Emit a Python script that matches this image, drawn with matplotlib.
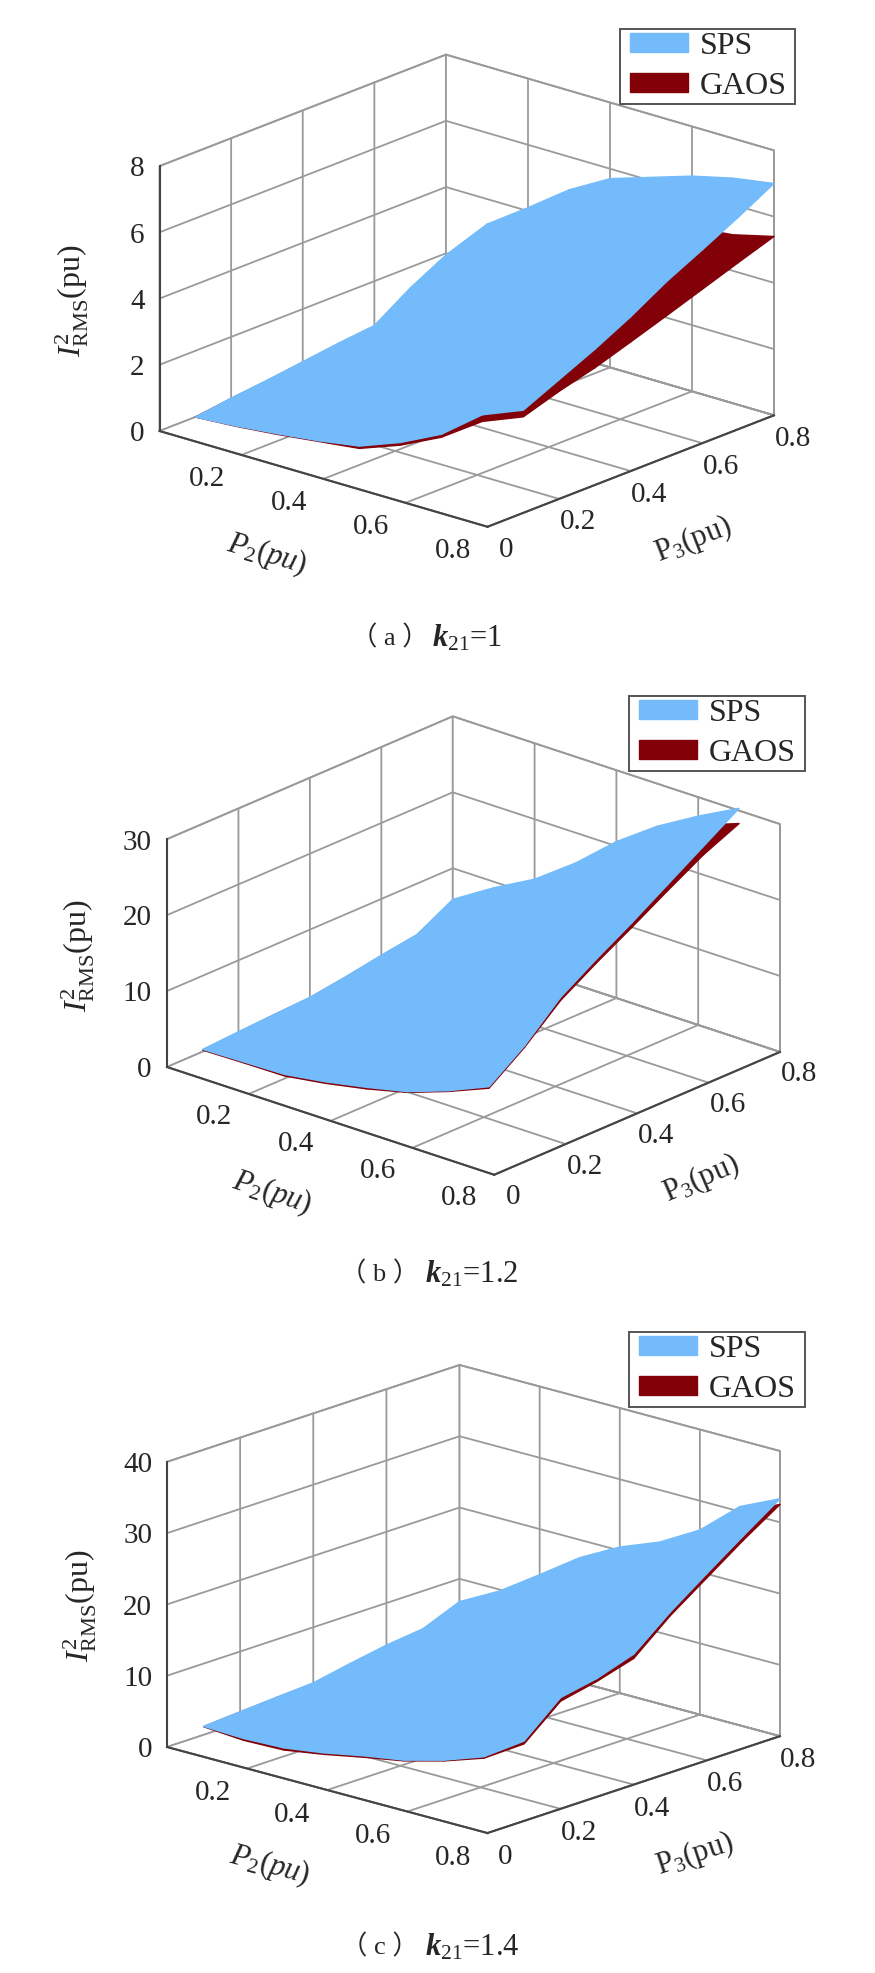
import numpy as np
import matplotlib
matplotlib.use("Agg")
import matplotlib.pyplot as plt
from matplotlib.legend_handler import HandlerPatch
from matplotlib.patches import Patch
from mpl_toolkits.mplot3d import proj3d

plt.rcParams['font.family'] = ['Liberation Serif', 'Noto Sans CJK SC', 'DejaVu Sans']
plt.rcParams['mathtext.fontset'] = 'custom'
plt.rcParams['mathtext.rm'] = 'Liberation Serif'
plt.rcParams['mathtext.it'] = 'Liberation Serif:italic'
plt.rcParams['mathtext.bf'] = 'Liberation Serif:bold'
plt.rcParams['mathtext.bfit'] = 'Liberation Serif:italic:bold'

W, H = 875, 1973

P3 = [0.1, 0.2, 0.3, 0.4, 0.5, 0.6, 0.7, 0.8]
P2_A = [0, 0.1, 0.2, 0.3, 0.4, 0.5, 0.6, 0.7, 0.8]
P2_B = [0, 0.1, 0.2, 0.3, 0.4, 0.5, 0.6, 0.7]
P2_C = P2_A

SPS_A = [
    [0.00, 0.09, 0.22, 0.37, 0.57, 1.04, 1.65, 2.60, 3.10],
    [0.15, 0.30, 0.50, 0.75, 1.05, 1.55, 2.15, 3.00, 3.60],
    [0.27, 0.60, 0.90, 1.20, 1.60, 2.10, 2.70, 3.50, 4.10],
    [0.41, 0.90, 1.35, 1.80, 2.20, 2.80, 3.40, 4.10, 4.66],
    [0.55, 1.25, 1.90, 2.50, 3.00, 3.60, 4.20, 4.80, 5.30],
    [0.66, 1.60, 2.50, 3.20, 3.90, 4.40, 4.90, 5.40, 5.84],
    [1.37, 2.40, 3.30, 4.10, 4.80, 5.30, 5.70, 6.10, 6.40],
    [1.95, 3.24, 4.10, 5.00, 5.70, 6.10, 6.50, 6.80, 7.00],
]
GAOS_A = [
    [0.00, 0.08, 0.20, 0.35, 0.50, 0.96, 1.56, 2.40, 2.90],
    [0.14, 0.28, 0.45, 0.70, 0.95, 1.40, 1.95, 2.70, 3.25],
    [0.25, 0.55, 0.80, 1.10, 1.45, 1.90, 2.40, 3.10, 3.54],
    [0.38, 0.80, 1.20, 1.60, 2.00, 2.50, 3.00, 3.50, 3.90],
    [0.50, 1.10, 1.70, 2.20, 2.70, 3.10, 3.50, 3.90, 4.27],
    [0.60, 1.40, 2.20, 2.80, 3.30, 3.70, 4.00, 4.30, 4.65],
    [1.20, 2.10, 2.90, 3.50, 4.00, 4.30, 4.50, 4.80, 5.03],
    [1.70, 2.80, 3.60, 4.20, 4.60, 4.80, 4.95, 5.09, 5.40],
]
SPS_B = [
    [0.3, 0.43, 0.55, 1.35, 2.4, 3.6, 5.5, 7.8],
    [0.6, 1.1, 1.8, 2.6, 3.8, 5.4, 8.0, 11.2],
    [0.86, 1.8, 3.0, 4.3, 6.0, 8.2, 11.5, 15.5],
    [1.1, 2.4, 4.2, 6.2, 8.4, 11.2, 14.6, 18.5],
    [1.77, 3.6, 5.8, 8.2, 11.0, 14.0, 17.5, 21.3],
    [2.6, 5.0, 7.6, 10.5, 13.8, 17.0, 20.5, 24.3],
    [3.3, 6.6, 9.6, 13.0, 16.8, 20.4, 23.8, 27.3],
    [5.9, 9.2, 12.1, 16.0, 20.6, 24.4, 27.5, 30.3],
]
GAOS_B = [
    [0.2, 0.3, 0.35, 1.15, 2.2, 3.5, 5.4, 7.6],
    [0.5, 1.0, 1.7, 2.5, 3.7, 5.3, 7.9, 11.0],
    [0.8, 1.7, 2.9, 4.2, 5.9, 8.0, 11.2, 15.1],
    [1.0, 2.3, 4.1, 6.0, 8.2, 10.9, 14.2, 18.0],
    [1.7, 3.4, 5.6, 8.0, 10.7, 13.6, 17.0, 20.7],
    [2.5, 4.8, 7.4, 10.2, 13.4, 16.5, 19.8, 23.5],
    [3.2, 6.4, 9.3, 12.6, 16.3, 19.7, 22.8, 26.2],
    [5.7, 8.9, 11.8, 15.6, 20.0, 23.5, 26.3, 28.3],
]
SPS_C = [
    [1.2, 1.0, 1.2, 2.0, 3.1, 4.0, 5.5, 7.5, 11.2],
    [1.56, 2.2, 3.0, 4.2, 5.6, 7.2, 9.5, 12.5, 15.6],
    [1.9, 3.0, 4.2, 5.6, 7.2, 9.0, 11.2, 13.8, 16.6],
    [2.2, 3.8, 5.4, 7.2, 9.0, 11.2, 13.4, 15.8, 18.3],
    [3.2, 5.0, 7.0, 9.2, 11.4, 13.8, 16.4, 19.4, 22.5],
    [4.1, 6.2, 8.8, 11.4, 14.0, 16.8, 19.6, 22.8, 26.2],
    [4.7, 7.6, 10.8, 14.0, 17.0, 19.8, 22.8, 26.4, 29.8],
    [6.8, 9.8, 13.6, 17.5, 20.5, 22.7, 25.9, 30.7, 33.3],
]
GAOS_C = [
    [1.15, 0.75, 0.9, 1.8, 2.9, 3.9, 5.4, 7.3, 10.8],
    [1.5, 2.0, 2.8, 4.0, 5.4, 7.0, 9.2, 12.2, 15.1],
    [1.8, 2.8, 4.0, 5.4, 7.0, 8.8, 11.0, 13.5, 16.2],
    [2.1, 3.6, 5.2, 7.0, 8.8, 11.0, 13.2, 15.4, 17.7],
    [3.0, 4.8, 6.8, 9.0, 11.2, 13.5, 16.0, 19.0, 22.0],
    [3.9, 6.0, 8.5, 11.1, 13.7, 16.4, 19.2, 22.3, 25.6],
    [4.5, 7.3, 10.5, 13.7, 16.6, 19.4, 22.3, 25.8, 29.2],
    [6.5, 9.5, 13.2, 17.0, 20.0, 22.2, 25.3, 30.0, 32.5],
]
X_TICKS = [0.2, 0.4, 0.6, 0.8]
X_LABELS = ['0.2', '0.4', '0.6', '0.8']
Y_TICKS = [0, 0.2, 0.4, 0.6, 0.8]
Y_LABELS = ['0', '0.2', '0.4', '0.6', '0.8']
Z_TICKS_A = [0, 2, 4, 6, 8]
Z_TICKS_B = [0, 10, 20, 30]
Z_TICKS_C = [0, 10, 20, 30, 40]

SPS_COLOR = '#73BBFA'
GAOS_COLOR = '#820008'
GRID = '#9a9a9a'
DARK = '#444444'
TEXT = '#262626'

PANELS = [
    dict(p2=P2_A, sps=SPS_A, gaos=GAOS_A, zt=Z_TICKS_A, zmax=8, elev=19.7, azim=-49.1,
         aspect=(434, 437.6, 281.4), left=(159.5, 431), right=(774, 416),
         legend=(620, 29, 175), tag='（ a ）', k='1', tag_xy=(390, 638), k_x=432),
    dict(p2=P2_B, sps=SPS_B, gaos=GAOS_B, zt=Z_TICKS_B, zmax=30, elev=22.1, azim=-48.8,
         aspect=(435, 434, 246), left=(167, 1067), right=(780, 1052),
         legend=(629, 696, 176), tag='（ b ）', k='1.2', tag_xy=(380, 1274), k_x=425),
    dict(p2=P2_C, sps=SPS_C, gaos=GAOS_C, zt=Z_TICKS_C, zmax=40, elev=17.35, azim=-48.0,
         aspect=(431, 437, 298.6), left=(167, 1747), right=(780, 1736),
         legend=(629, 1332, 176), tag='（ c ）', k='1.4', tag_xy=(380, 1947), k_x=425),
]

fig = plt.figure(figsize=(W / 100, H / 100), dpi=100, facecolor='white')


def place(ax, left, right):
    """Scale and shift the 3-D axes so that two floor corners land on target pixels."""
    s = 700.0
    x0, y0 = 100.0, 100.0
    tl = np.array([left[0], H - left[1]], float)
    tr = np.array([right[0], H - right[1]], float)

    def corners():
        ax.set_position([x0 / W, y0 / H, s / W, s / H])
        ax.apply_aspect()
        M = ax.get_proj()
        xs, ys, _z = proj3d.proj_transform(np.array([0, 0.8]), np.array([0, 0.8]), np.array([0, 0]), M)
        return ax.transData.transform(np.column_stack([xs, ys]))

    for _ in range(4):
        pts = corners()
        s *= (tr[0] - tl[0]) / (pts[1, 0] - pts[0, 0])
        pts = corners()
        x0 += tl[0] - pts[0, 0]
        y0 += tl[1] - pts[0, 1]
    ax.set_position([x0 / W, y0 / H, s / W, s / H])


for cfg in PANELS:
    ax = fig.add_subplot(projection='3d', computed_zorder=False)
    ax.set_proj_type('ortho')
    ax.view_init(elev=cfg['elev'], azim=cfg['azim'])
    ax.set_box_aspect(cfg['aspect'])
    ax.patch.set_alpha(0)
    ax.set_xlim(0, 0.8, view_margin=0)
    ax.set_ylim(0, 0.8, view_margin=0)
    ax.set_zlim(0, cfg['zmax'], view_margin=0)

    PP, QQ = np.meshgrid(cfg['p2'], P3)
    ax.plot_surface(PP, QQ, np.array(cfg['gaos']), color=GAOS_COLOR, shade=False,
                    linewidth=1.0, edgecolor=GAOS_COLOR, antialiased=True, zorder=1)
    ax.plot_surface(PP, QQ, np.array(cfg['sps']), color=SPS_COLOR, shade=False,
                    linewidth=1.0, edgecolor=SPS_COLOR, antialiased=True, zorder=2)

    ax.set_xticks(X_TICKS, X_LABELS)
    ax.set_yticks(Y_TICKS, Y_LABELS)
    ax.set_zticks(cfg['zt'], [str(v) for v in cfg['zt']])
    ax.zaxis.set_ticks_position('lower')
    ax.zaxis.set_label_position('lower')
    for axis in (ax.xaxis, ax.yaxis, ax.zaxis):
        axis.set_pane_color((1, 1, 1, 1))
        axis.pane.set_edgecolor(GRID)
        axis.pane.set_linewidth(1.3)
        axis._axinfo['grid'].update(color=GRID, linewidth=1.3)
        axis._axinfo['tick'].update(inward_factor=0.0, outward_factor=0.0)
        axis._axinfo['axisline']['color'] = DARK
        axis.line.set_color(DARK)
        axis.line.set_linewidth(1.5)
    ax.tick_params(axis='both', labelsize=21, labelcolor=TEXT, pad=6)
    ax.tick_params(axis='z', labelsize=21, labelcolor=TEXT, pad=-2)
    for lab in ax.get_xticklabels():
        lab.set_ha('right')
        lab.set_va('center_baseline')
    for lab in ax.get_yticklabels():
        lab.set_va('center_baseline')
    for lab in ax.get_zticklabels():
        lab.set_ha('right')
        lab.set_va('center_baseline')
    ax.set_xlabel(r'$P_2(pu)$', fontsize=22, color=TEXT, labelpad=28)
    ax.set_ylabel(r'$\mathrm{P}_3$(pu)', fontsize=22, color=TEXT, labelpad=26)
    ax.set_zlabel(r'$I^2_{\mathrm{RMS}}$(pu)', fontsize=23, color=TEXT, labelpad=14)

    place(ax, cfg['left'], cfg['right'])

    lx, ly, lw = cfg['legend']
    leg = fig.legend(
        handles=[Patch(color=SPS_COLOR), Patch(color=GAOS_COLOR)], labels=['SPS', 'GAOS'],
        loc='upper left', bbox_to_anchor=(lx / W, 1 - ly / H, lw / W, 0),
        bbox_transform=fig.transFigure, mode='expand', borderaxespad=0, fontsize=23,
        labelcolor=TEXT, fancybox=False, framealpha=1, edgecolor='#555555',
        handlelength=2.04, handleheight=0.53, handletextpad=0.37, labelspacing=0.33,
        borderpad=0.1, handler_map={Patch: HandlerPatch(xpad=0.2)})
    leg.get_frame().set_linewidth(1.4)

    tx, ty = cfg['tag_xy']
    fig.text(tx / W, 1 - ty / H, cfg['tag'], ha='center', va='center', fontsize=19, color=TEXT)
    fig.text(cfg['k_x'] / W, 1 - ty / H, r'$\mathbfit{k}_{\mathrm{21}}$=' + cfg['k'], ha='left',
             va='center', fontsize=22, color=TEXT)

fig.savefig('out.png', dpi=100, facecolor='white')
